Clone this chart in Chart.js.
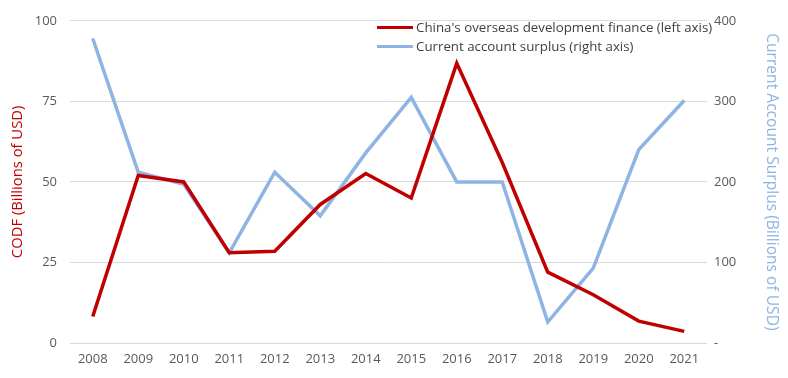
<!DOCTYPE html>
<html><head><meta charset="utf-8">
<script src="https://cdn.jsdelivr.net/npm/chart.js@4"></script>
<style>
html,body{margin:0;padding:0;background:#fff;}
#wrap{position:relative;width:788px;height:378px;}
#legend{position:absolute;left:377px;top:18px;font-family:"Open Sans",sans-serif;font-size:13.3px;color:#404040;line-height:19px;}
#legend .it{display:flex;align-items:center;white-space:nowrap;}
#legend .sw{display:inline-block;width:36px;height:3px;margin-right:3px;}
</style></head>
<body><div id="wrap"><canvas id="c" width="788" height="378"></canvas>
<div id="legend"></div></div>
<script>
const years = ["2008","2009","2010","2011","2012","2013","2014","2015","2016","2017","2018","2019","2020","2021"];
const codf = [8.2, 52, 50, 28, 28.5, 43, 52.6, 45, 86.8, 56, 22, 15, 6.8, 3.6];
const surplus = [378, 212, 197, 112, 212, 158, 236, 305, 200, 200, 26, 93, 240, 301];
const leftTicks = [0, 25, 50, 75, 100];
const rightTicks = [0, 100, 200, 300, 400];
const seriesNames = ["China's overseas development finance (left axis)", "Current account surplus (right axis)"];
const red = "#c00000", blue = "#8eb4e3";
const font = {family: "'Open Sans', sans-serif", size: 13};
const tickColor = "#595959";

document.getElementById('legend').innerHTML =
  `<div class="it"><span class="sw" style="background:${red}"></span>${seriesNames[0]}</div>` +
  `<div class="it"><span class="sw" style="background:${blue}"></span>${seriesNames[1]}</div>`;

new Chart(document.getElementById('c'), {
  type: 'line',
  data: {
    labels: years,
    datasets: [
      {label: seriesNames[0], data: codf, borderColor: red, backgroundColor: red, borderWidth: 3.5, pointRadius: 0, yAxisID: 'y', tension: 0},
      {label: seriesNames[1], data: surplus, borderColor: blue, backgroundColor: blue, borderWidth: 3.5, pointRadius: 0, yAxisID: 'y1', tension: 0}
    ]
  },
  options: {
    responsive: false, animation: false,
    layout: {padding: {top: 10, right: 0, bottom: 0, left: 0}},
    plugins: {legend: {display: false}, tooltip: {enabled: false}},
    scales: {
      x: {
        offset: true,
        grid: {display: false, drawTicks: false},
        border: {display: false},
        ticks: {color: tickColor, font: font, padding: 8, maxRotation: 0},
        afterFit(s) { s.height = 35; }
      },
      y: {
        position: 'left', min: 0, max: 100,
        afterBuildTicks(s) { s.ticks = leftTicks.map(v => ({value: v})); },
        grid: {color: '#d9d9d9', drawTicks: false, lineWidth: 1},
        border: {display: false},
        ticks: {color: tickColor, font: font, padding: 13},
        title: {display: true, text: 'CODF (Billions of USD)', color: red, font: {family: "'Open Sans', sans-serif", size: 14.8}, padding: {top: 9, bottom: 2}},
        afterFit(s) { s.width = 70; }
      },
      y1: {
        position: 'right', min: 0, max: 400,
        afterBuildTicks(s) { s.ticks = rightTicks.map(v => ({value: v})); },
        grid: {display: false, drawTicks: false},
        border: {display: false},
        ticks: {color: tickColor, font: font, padding: 7, callback: v => v === 0 ? '-' : v},
        title: {display: true, text: 'Current Account Surplus (Billions of USD)', color: blue, font: {family: "'Open Sans', sans-serif", size: 15.6}, padding: {top: 7, bottom: 0}},
        afterFit(s) { s.width = 81; }
      }
    }
  }
});
</script></body></html>
